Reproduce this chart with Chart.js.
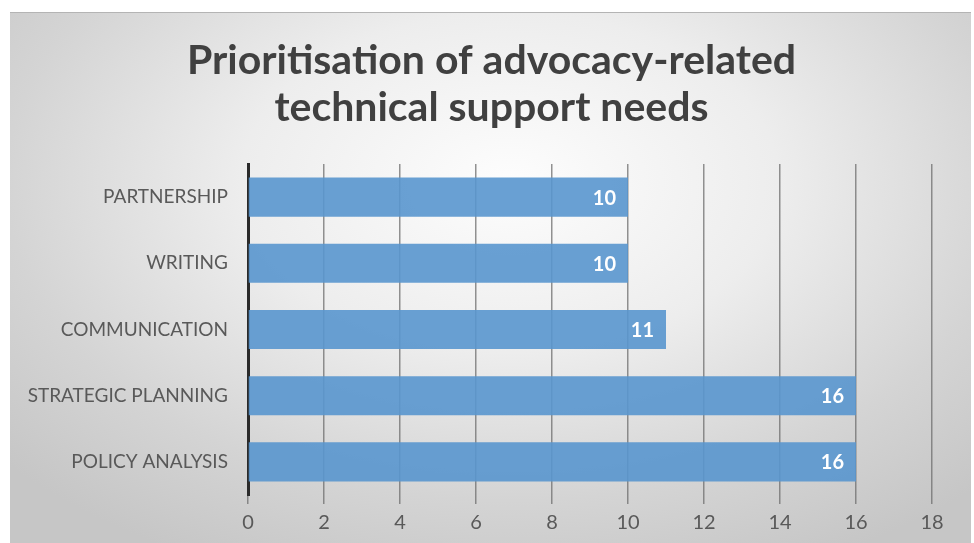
<!DOCTYPE html>
<html>
<head>
<meta charset="utf-8">
<script src="https://cdn.jsdelivr.net/npm/chart.js@4.4.1/dist/chart.umd.min.js"></script>
<style>
  html, body { margin: 0; padding: 0; background: #ffffff; }
  #panel {
    position: absolute;
    left: 10px; top: 12px;
    width: 961px; height: 531px;
    background: radial-gradient(ellipse 70% 80% at 52% 32%, #fdfdfd 0%, #ededed 40%, #d4d4d4 75%, #c6c6c6 100%);
    border-top: 1px solid #b4b4b4;
    box-sizing: border-box;
  }
  #chart { display: block; }
</style>
</head>
<body>
<div id="panel">
  <canvas id="chart" width="961" height="530"></canvas>
</div>
<script>
const categories = ["PARTNERSHIP", "WRITING", "COMMUNICATION", "STRATEGIC PLANNING", "POLICY ANALYSIS"];
const needCounts = [10, 10, 11, 16, 16];
const xTicks = [0, 2, 4, 6, 8, 10, 12, 14, 16, 18];

const titleLines = ["Prioritisation of advocacy-related", "technical support needs"];

// two-line title centred on the whole canvas (not just the plot box)
const centredTitle = {
    id: "centredTitle",
    afterDraw(chart) {
        const ctx = chart.ctx;
        ctx.save();
        ctx.fillStyle = "#404040";
        ctx.font = "bold 41px Lato, 'Open Sans', sans-serif";
        ctx.textAlign = "center";
        ctx.textBaseline = "alphabetic";
        const cx = chart.width / 2 + 1;
        titleLines.forEach((line, i) => {
            ctx.fillText(line, cx, 61 + i * 47);
        });
        ctx.restore();
    }
};

// white value labels just inside the end of each bar
const barValueLabels = {
    id: "barValueLabels",
    afterDatasetsDraw(chart) {
        const ctx = chart.ctx;
        const meta = chart.getDatasetMeta(0);
        ctx.save();
        ctx.fillStyle = "#ffffff";
        ctx.font = "bold 20px Lato, 'Open Sans', sans-serif";
        ctx.textAlign = "right";
        ctx.textBaseline = "middle";
        meta.data.forEach((bar, i) => {
            ctx.fillText(String(needCounts[i]), bar.x - 12, bar.y + 1);
        });
        ctx.restore();
    }
};

new Chart(document.getElementById("chart"), {
    type: "bar",
    data: {
        labels: categories,
        datasets: [{
            data: needCounts,
            backgroundColor: "rgba(89,150,206,0.9)",
            borderWidth: 0,
            categoryPercentage: 0.59,
            barPercentage: 1.0
        }]
    },
    options: {
        indexAxis: "y",
        responsive: false,
        animation: false,
        layout: { padding: { left: 0, right: 39, top: 151, bottom: 0 } },
        plugins: {
            legend: { display: false },
            tooltip: { enabled: false },
            title: { display: false }
        },
        scales: {
            x: {
                min: 0,
                max: 18,
                afterFit: scale => { scale.height = 48; },
                afterBuildTicks: scale => { scale.ticks = xTicks.map(v => ({ value: v })); },
                grid: {
                    color: "rgba(110,110,110,0.75)",
                    lineWidth: 1.5,
                    tickLength: 9,
                    drawTicks: true
                },
                border: { display: false },
                ticks: {
                    color: "#595959",
                    padding: 7,
                    font: { family: "Lato, 'Open Sans', sans-serif", size: 20 }
                }
            },
            y: {
                afterFit: scale => { scale.width = 238; },
                grid: { color: "transparent", drawTicks: false },
                border: { display: true, color: "#2a2a2a", width: 3 },
                ticks: {
                    color: "#595959",
                    padding: 20,
                    font: { family: "Lato, 'Open Sans', sans-serif", size: 19 }
                }
            }
        }
    },
    plugins: [barValueLabels, centredTitle]
});
</script>
</body>
</html>
